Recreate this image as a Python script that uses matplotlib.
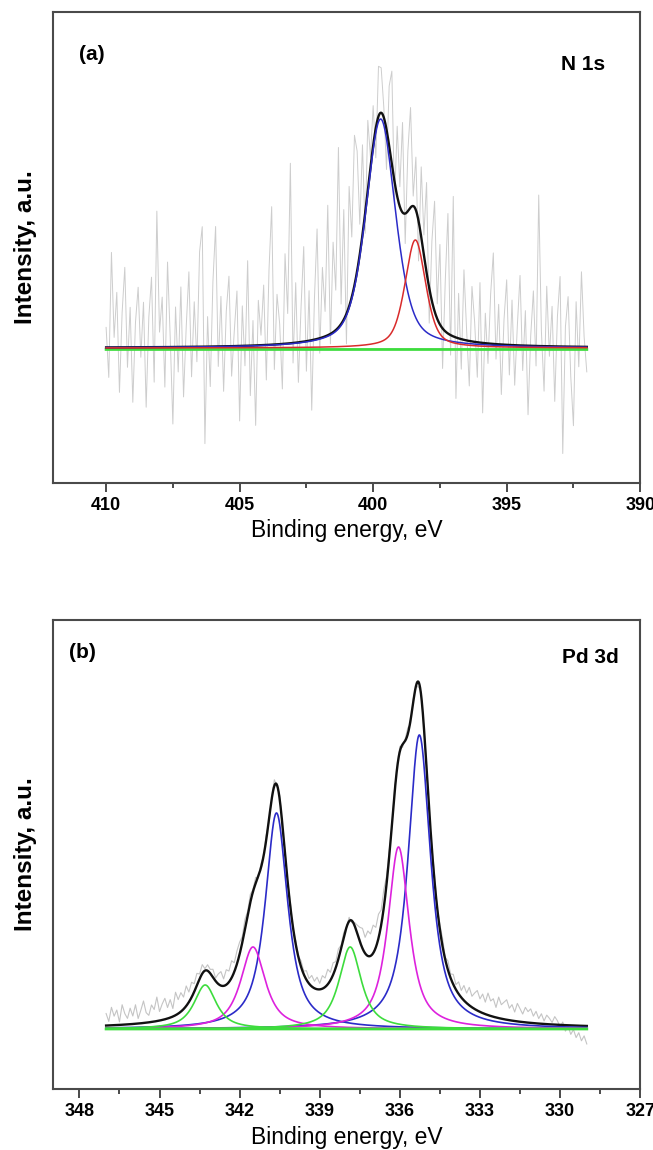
import numpy as np
import matplotlib
matplotlib.use('Agg')
import matplotlib.pyplot as plt
from matplotlib.ticker import MultipleLocator

plt.rcParams['font.family'] = ['Liberation Sans', 'DejaVu Sans']

# (a) N 1s : raw spectrum sampled every 0.1 eV from 410.0 down to 392.0
n1s_start, n1s_stop = 410.0, 392.0
n1s_resid = [20, -30, 95, 10, 55, -45, 35, 80, -20, 40,
             -55, 25, 60, -10, 45, -60, 30, 70, -35, 136,
             15, 50, -40, 85, 10, -77, 40, -25, 60, -50,
             20, 75, -30, 45, -15, 95, 120, -97, 30, -40,
             65, 120, -20, 50, -45, 35, 70, -30, 15, 55,
             -75, 40, -20, 85, -50, 25, -80, 45, 10, 60,
             -35, 75, 138, -25, 50, 20, -45, 90, 30, 180,
             -20, 60, -40, 35, 95, -30, 50, -70, 40, 110,
             -15, 70, 25, 130, -10, 90, 40, 180, 20, 110,
             -30, 120, 60, 150, 120, 30, 90, -20, 70, 10,
             40, -30, 50, 45, 10, -40, 60, 93, -20, 70,
             20, 90, -30, 60, 100, 10, 53, -40, 70, 20,
             90, -35, 60, 110, 15, 80, -40, 50, 120, -20,
             140, -61, 45, -30, 70, 10, -45, 55, 20, -35,
             60, -70, 30, -20, 50, 91, -15, 40, -50, 25,
             65, -30, 45, -40, 20, 70, -25, 35, -69, 10,
             55, -20, 151, 15, -45, 60, -10, 40, -55, 30,
             70, -107, 20, 50, -30, -79, 45, -20, 75, 10,
             -25]
n1s_centers = [399.72, 398.42]
n1s_heights = [229, 108]
n1s_fwhm = [1.32, 0.92]
n1s_colors = ['#2b2bc8', '#d92b2b']

# (b) Pd 3d : raw spectrum sampled every 0.1 eV from 347.0 down to 329.0
pd_start, pd_stop = 347.0, 329.0
pd_resid = [12, 4, 18, 9, 15, 3, 20, 11, 6, 16,
            8, 19, 5, 13, 22, 10, 7, 17, 12, 24,
            9, 16, 21, 11, 18, 8, 23, 14, 19, 12,
            20, 10, 15, 8, 12, 5, 9, 2, 6, 4,
            8, 3, 10, 14, 7, 15, 11, 17, 9, 13,
            12, 6, 10, 4, 8, 2, 6, -2, 4, 0,
            5, -3, 2, 6, -1, 4, -4, 3, 0, 5,
            -2, 4, 1, 6, 3, 9, 5, 11, 7, 12,
            6, 13, 9, 15, 8, 12, 6, 10, 3, 5,
            0, 4, -2, 3, 8, 14, 20, 16, 25, 22,
            28, 20, 24, 15, 18, 8, 6, -2, 4, 0,
            5, -3, 2, 6, -4, 3, 0, -5, 4, -2,
            3, -4, 2, 6, 0, 5, 8, 2, 9, 4,
            10, 5, 12, 7, 15, 10, 18, 11, 16, 20,
            13, 19, 12, 22, 15, 18, 10, 21, 14, 17,
            20, 12, 16, 9, 18, 13, 8, 15, 11, 14,
            7, 12, 5, 10, 3, 9, 6, 2, 8, 4,
            -2, 3, -6, -1, -9, -4, -12, -7, -15, -10,
            -18]
pd_centers = [335.27, 340.62, 336.05, 341.50, 337.86, 343.29]
pd_heights = [294, 216, 182, 82, 82, 44]
pd_fwhm = [1.0, 1.0, 0.95, 1.1, 1.0, 1.0]
pd_colors = ['#2b2bc8', '#2b2bc8', '#dd22dd', '#dd22dd', '#3ddc3d', '#3ddc3d']


def pvoigt(x, c, h, w, eta):
    t = ((x - c) / (w / 2.0)) ** 2
    return h * ((1 - eta) * np.exp(-np.log(2) * t) + eta / (1 + t))


def style_axes(ax, xlim, ylim, major, minor):
    ax.set_xlim(*xlim)
    ax.set_ylim(*ylim)
    ax.xaxis.set_major_locator(MultipleLocator(major))
    ax.xaxis.set_minor_locator(MultipleLocator(minor))
    ax.set_yticks([])
    for s in ax.spines.values():
        s.set_linewidth(1.5)
        s.set_color('#4a4a4a')
    ax.tick_params(axis='x', which='major', direction='out', length=6.5, width=1.4,
                   color='#4a4a4a', labelsize=13, pad=3.5)
    ax.tick_params(axis='x', which='minor', direction='out', length=3.6, width=1.4,
                   color='#4a4a4a')
    for lab in ax.get_xticklabels():
        lab.set_fontweight('bold')
    ax.set_xlabel('Binding energy, eV', fontsize=16.5, labelpad=4)
    ax.set_ylabel('Intensity, a.u.', fontsize=17.5, fontweight='bold')
    ax.yaxis.set_label_coords(-0.027, 0.5)


fig = plt.figure(figsize=(6.53, 11.5), dpi=100)
ax1 = fig.add_axes([0.0807, 0.5803, 0.8997, 0.409])
ax2 = fig.add_axes([0.0807, 0.0528, 0.8997, 0.4081])

# ---- (a) N 1s
e_raw = np.linspace(n1s_start, n1s_stop, len(n1s_resid))
e_fit = np.linspace(n1s_start, n1s_stop, 1801)
comps = [pvoigt(e_fit, c, h, w, 0.5) for c, h, w in zip(n1s_centers, n1s_heights, n1s_fwhm)]
env = np.sum(comps, axis=0)
env_raw = np.sum([pvoigt(e_raw, c, h, w, 0.5) for c, h, w in zip(n1s_centers, n1s_heights, n1s_fwhm)], axis=0)
ax1.plot(e_raw, env_raw + np.array(n1s_resid), color='#cdcdcd', lw=0.7, zorder=1)
ax1.plot(e_fit, np.full_like(e_fit, -1.5), color='#3ddc3d', lw=2.0, zorder=2)
ax1.plot(e_fit, env, color='#111111', lw=1.7, zorder=3)
for y, col in zip(comps, n1s_colors):
    ax1.plot(e_fit, y, color=col, lw=1.1, zorder=4)
style_axes(ax1, (412, 390), (-134.7, 335.7), 5, 2.5)
ax1.text(0.0456, 0.911, '(a)', transform=ax1.transAxes, fontsize=15, fontweight='bold',
         ha='left', va='center')
ax1.text(0.940, 0.890, 'N 1s', transform=ax1.transAxes, fontsize=15, fontweight='bold',
         ha='right', va='center')

# ---- (b) Pd 3d
e_raw = np.linspace(pd_start, pd_stop, len(pd_resid))
e_fit = np.linspace(pd_start, pd_stop, 1801)
comps = [pvoigt(e_fit, c, h, w, 0.85) for c, h, w in zip(pd_centers, pd_heights, pd_fwhm)]
env = np.sum(comps, axis=0)
env_raw = np.sum([pvoigt(e_raw, c, h, w, 0.85) for c, h, w in zip(pd_centers, pd_heights, pd_fwhm)], axis=0)
ax2.plot(e_raw, env_raw + np.array(pd_resid), color='#c4c4c4', lw=0.8, zorder=1)
ax2.plot(e_fit, env, color='#111111', lw=1.7, zorder=3)
for y, col in zip(comps, pd_colors):
    ax2.plot(e_fit, y, color=col, lw=1.2, zorder=4 if col != '#3ddc3d' else 5)
ax2.plot(e_fit, np.zeros_like(e_fit), color='#3ddc3d', lw=2.0, zorder=5)
style_axes(ax2, (349, 327), (-60.3, 409), 3, 1.5)
ax2.text(0.028, 0.930, '(b)', transform=ax2.transAxes, fontsize=15, fontweight='bold',
         ha='left', va='center')
ax2.text(0.964, 0.919, 'Pd 3d', transform=ax2.transAxes, fontsize=15, fontweight='bold',
         ha='right', va='center')

fig.savefig('out.png', dpi=100)
